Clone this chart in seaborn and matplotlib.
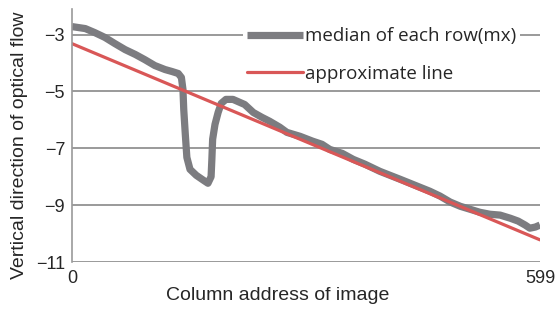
import pandas as pd
import matplotlib.pyplot as plt
import seaborn as sns

# median of each row
col = [0, 17, 29, 42, 55, 68, 81, 93, 106, 119, 128, 136, 140, 142, 143, 145,
       147, 151, 159, 168, 174, 178, 179, 180, 183, 187, 191, 197, 206, 221,
       232, 243, 253, 266, 275, 292, 308, 320, 330, 346, 360, 375, 394, 420,
       439, 458, 471, 484, 497, 509, 522, 535, 548, 561, 571, 580, 586, 593,
       599]
median_mx = [-2.72, -2.79, -2.93, -3.10, -3.32, -3.53, -3.70, -3.88, -4.09,
             -4.23, -4.30, -4.37, -4.51, -4.93, -5.63, -6.51, -7.32, -7.74,
             -7.95, -8.12, -8.23, -8.00, -7.39, -6.68, -6.16, -5.74, -5.42,
             -5.28, -5.28, -5.46, -5.74, -5.91, -6.05, -6.26, -6.44, -6.58,
             -6.75, -6.86, -7.04, -7.18, -7.39, -7.56, -7.81, -8.09, -8.30,
             -8.51, -8.68, -8.89, -9.04, -9.14, -9.25, -9.32, -9.35, -9.46,
             -9.56, -9.70, -9.81, -9.77, -9.70]

# approximate line
line_x = [0, 599]
line_y = [-3.32, -10.22]

yticks = [-3, -5, -7, -9, -11]
xticks = [0, 599]

sns.set_style("white")
plt.rcParams['font.family'] = ['Liberation Sans', 'DejaVu Sans']
plt.rcParams['axes.unicode_minus'] = True

fig = plt.figure(figsize=(5.6, 3.09), dpi=100)
ax = fig.add_axes([0.1286, 0.152, 0.8357, 0.819])

sns.lineplot(x=col, y=median_mx, ax=ax, color='#7c7c80', linewidth=5.2,
             label='median of each row(mx)', solid_capstyle='butt', sort=False)
sns.lineplot(x=line_x, y=line_y, ax=ax, color='#d95757', linewidth=2.3,
             label='approximate line')

ax.set_xlim(0, 599)
ax.set_ylim(-11, -2.1)
ax.set_yticks(yticks)
ax.set_yticklabels([f'\u2212{abs(v)}' for v in yticks], fontsize=13)
ax.set_xticks(xticks)
ax.set_xticklabels([str(v) for v in xticks], fontsize=13)
ax.yaxis.grid(True, color='#9a9a9a', linewidth=1.4)
ax.set_axisbelow(True)
ax.tick_params(axis='y', length=4, width=1, color='#9a9a9a', pad=1)
ax.tick_params(axis='x', length=0, pad=6)

sns.despine(ax=ax, top=True, right=True, bottom=True)
ax.spines['left'].set_color('#9a9a9a')
ax.spines['left'].set_linewidth(1.2)

ax.set_xlabel('Column address of image', fontsize=14)
ax.xaxis.set_label_coords(0.44, -0.10)
ax.set_ylabel('Vertical direction of optical flow', fontsize=14)
ax.yaxis.set_label_coords(-0.093, 0.46)

leg = ax.legend(loc='upper right', bbox_to_anchor=(0.957, 0.943), frameon=True,
                facecolor='white', edgecolor='none', framealpha=1,
                handlelength=3.0, handletextpad=0.1, labelspacing=1.05,
                borderaxespad=0.0, borderpad=0.2,
                prop={'family': 'Open Sans', 'size': 13.5})

fig.savefig('out.png', dpi=100)
